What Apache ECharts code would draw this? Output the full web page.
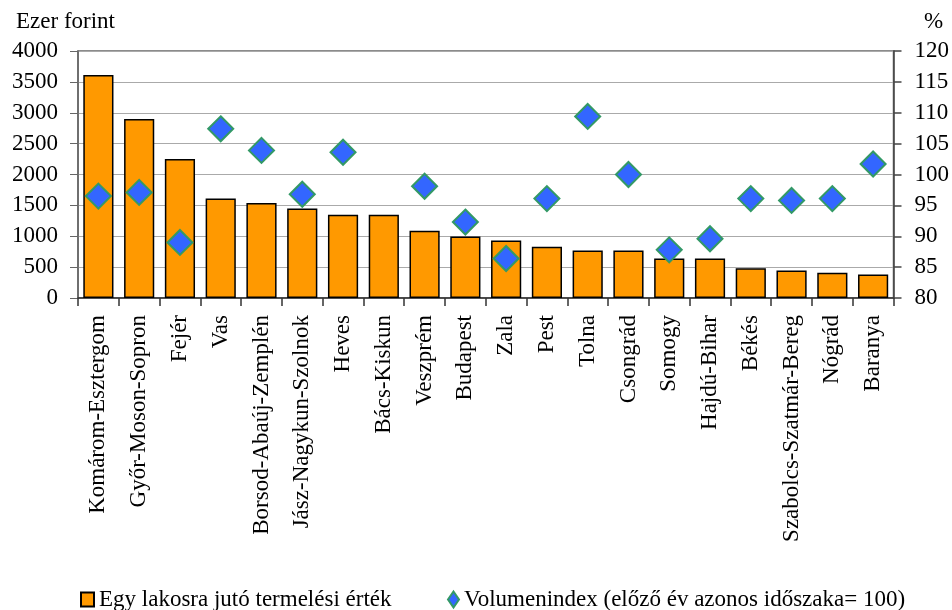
<!DOCTYPE html>
<html><head><meta charset="utf-8">
<script src="https://cdn.jsdelivr.net/npm/echarts@6/dist/echarts.min.js"></script>
<style>html,body{margin:0;padding:0;background:#fff}#c{width:952px;height:610px}</style>
</head><body><div id="c"></div>
<script>
const categories = ['Komárom-Esztergom','Győr-Moson-Sopron','Fejér','Vas','Borsod-Abaúj-Zemplén','Jász-Nagykun-Szolnok','Heves','Bács-Kiskun','Veszprém','Budapest','Zala','Pest','Tolna','Csongrád','Somogy','Hajdú-Bihar','Békés','Szabolcs-Szatmár-Bereg','Nógrád','Baranya'];
const perCapita = [3610,2900,2250,1610,1540,1450,1350,1350,1090,995,930,830,770,770,640,640,480,445,410,380];
const volumeIndex = [96.5,97.1,89.0,107.4,103.9,96.8,103.6,null,98.1,92.3,86.4,96.1,109.4,100.0,87.8,89.6,96.1,95.8,96.1,101.7];
const leftTicks = [0,4000,500];
const rightTicks = [80,120,5];
const F = 'Liberation Serif';
const FS = 23;
const chart = echarts.init(document.getElementById('c'));
chart.setOption({
  animation:false,
  textStyle:{fontFamily:F,color:'#000'},
  grid:{left:78,right:56,top:51,bottom:312,show:true,borderColor:'#666',borderWidth:1.5},
  graphic:[
    {type:'text',left:16,top:10,style:{text:'Ezer forint',font:'23px '+F,fill:'#000'}},
    {type:'text',left:924,top:10,style:{text:'%',font:'23px '+F,fill:'#000'}}
  ],
  legend:[
    {data:[{name:'Egy lakosra jutó termelési érték',icon:'rect'}],left:75,top:583,itemWidth:13,itemHeight:14,
     textStyle:{fontFamily:F,fontSize:FS,color:'#000',padding:[0,0,0,0]}},
    {data:[{name:'Volumenindex (előző év azonos időszaka= 100)',icon:'diamond'}],left:442,top:583,itemWidth:11,itemHeight:16,
     textStyle:{fontFamily:F,fontSize:FS,color:'#000',padding:[0,0,0,0]}}
  ],
  xAxis:{type:'category',data:categories,
    axisLine:{lineStyle:{color:'#333',width:1.5}},
    axisTick:{show:true,length:8,lineStyle:{color:'#333',width:1.5}},
    axisLabel:{rotate:90,fontSize:FS,fontFamily:F,color:'#000',margin:17,interval:0}},
  yAxis:[
    {type:'value',min:leftTicks[0],max:leftTicks[1],interval:leftTicks[2],
     axisLine:{show:true,lineStyle:{color:'#666',width:1.5}},
     axisTick:{show:true,length:8,lineStyle:{color:'#666'}},
     splitLine:{lineStyle:{color:'#aaa',width:1.2}},
     axisLabel:{fontSize:FS,fontFamily:F,color:'#000',margin:20,formatter:v=>String(v)}},
    {type:'value',min:rightTicks[0],max:rightTicks[1],interval:rightTicks[2],position:'right',
     axisLine:{show:true,lineStyle:{color:'#444',width:1.5}},
     axisTick:{show:true,length:8,lineStyle:{color:'#444',width:1.5}},
     splitLine:{show:false},
     axisLabel:{fontSize:FS,fontFamily:F,color:'#000',margin:21,formatter:v=>String(v)}}
  ],
  series:[
    {name:'Egy lakosra jutó termelési érték',type:'bar',data:perCapita,barCategoryGap:'26%',
     itemStyle:{color:'#FF9900',borderColor:'#000',borderWidth:1.5}},
    {name:'Volumenindex (előző év azonos időszaka= 100)',type:'scatter',yAxisIndex:1,data:volumeIndex,
     symbol:'diamond',symbolSize:[25,25],
     itemStyle:{color:'#3366FF',borderColor:'#339966',borderWidth:2,opacity:1}}
  ]
});
</script></body></html>
